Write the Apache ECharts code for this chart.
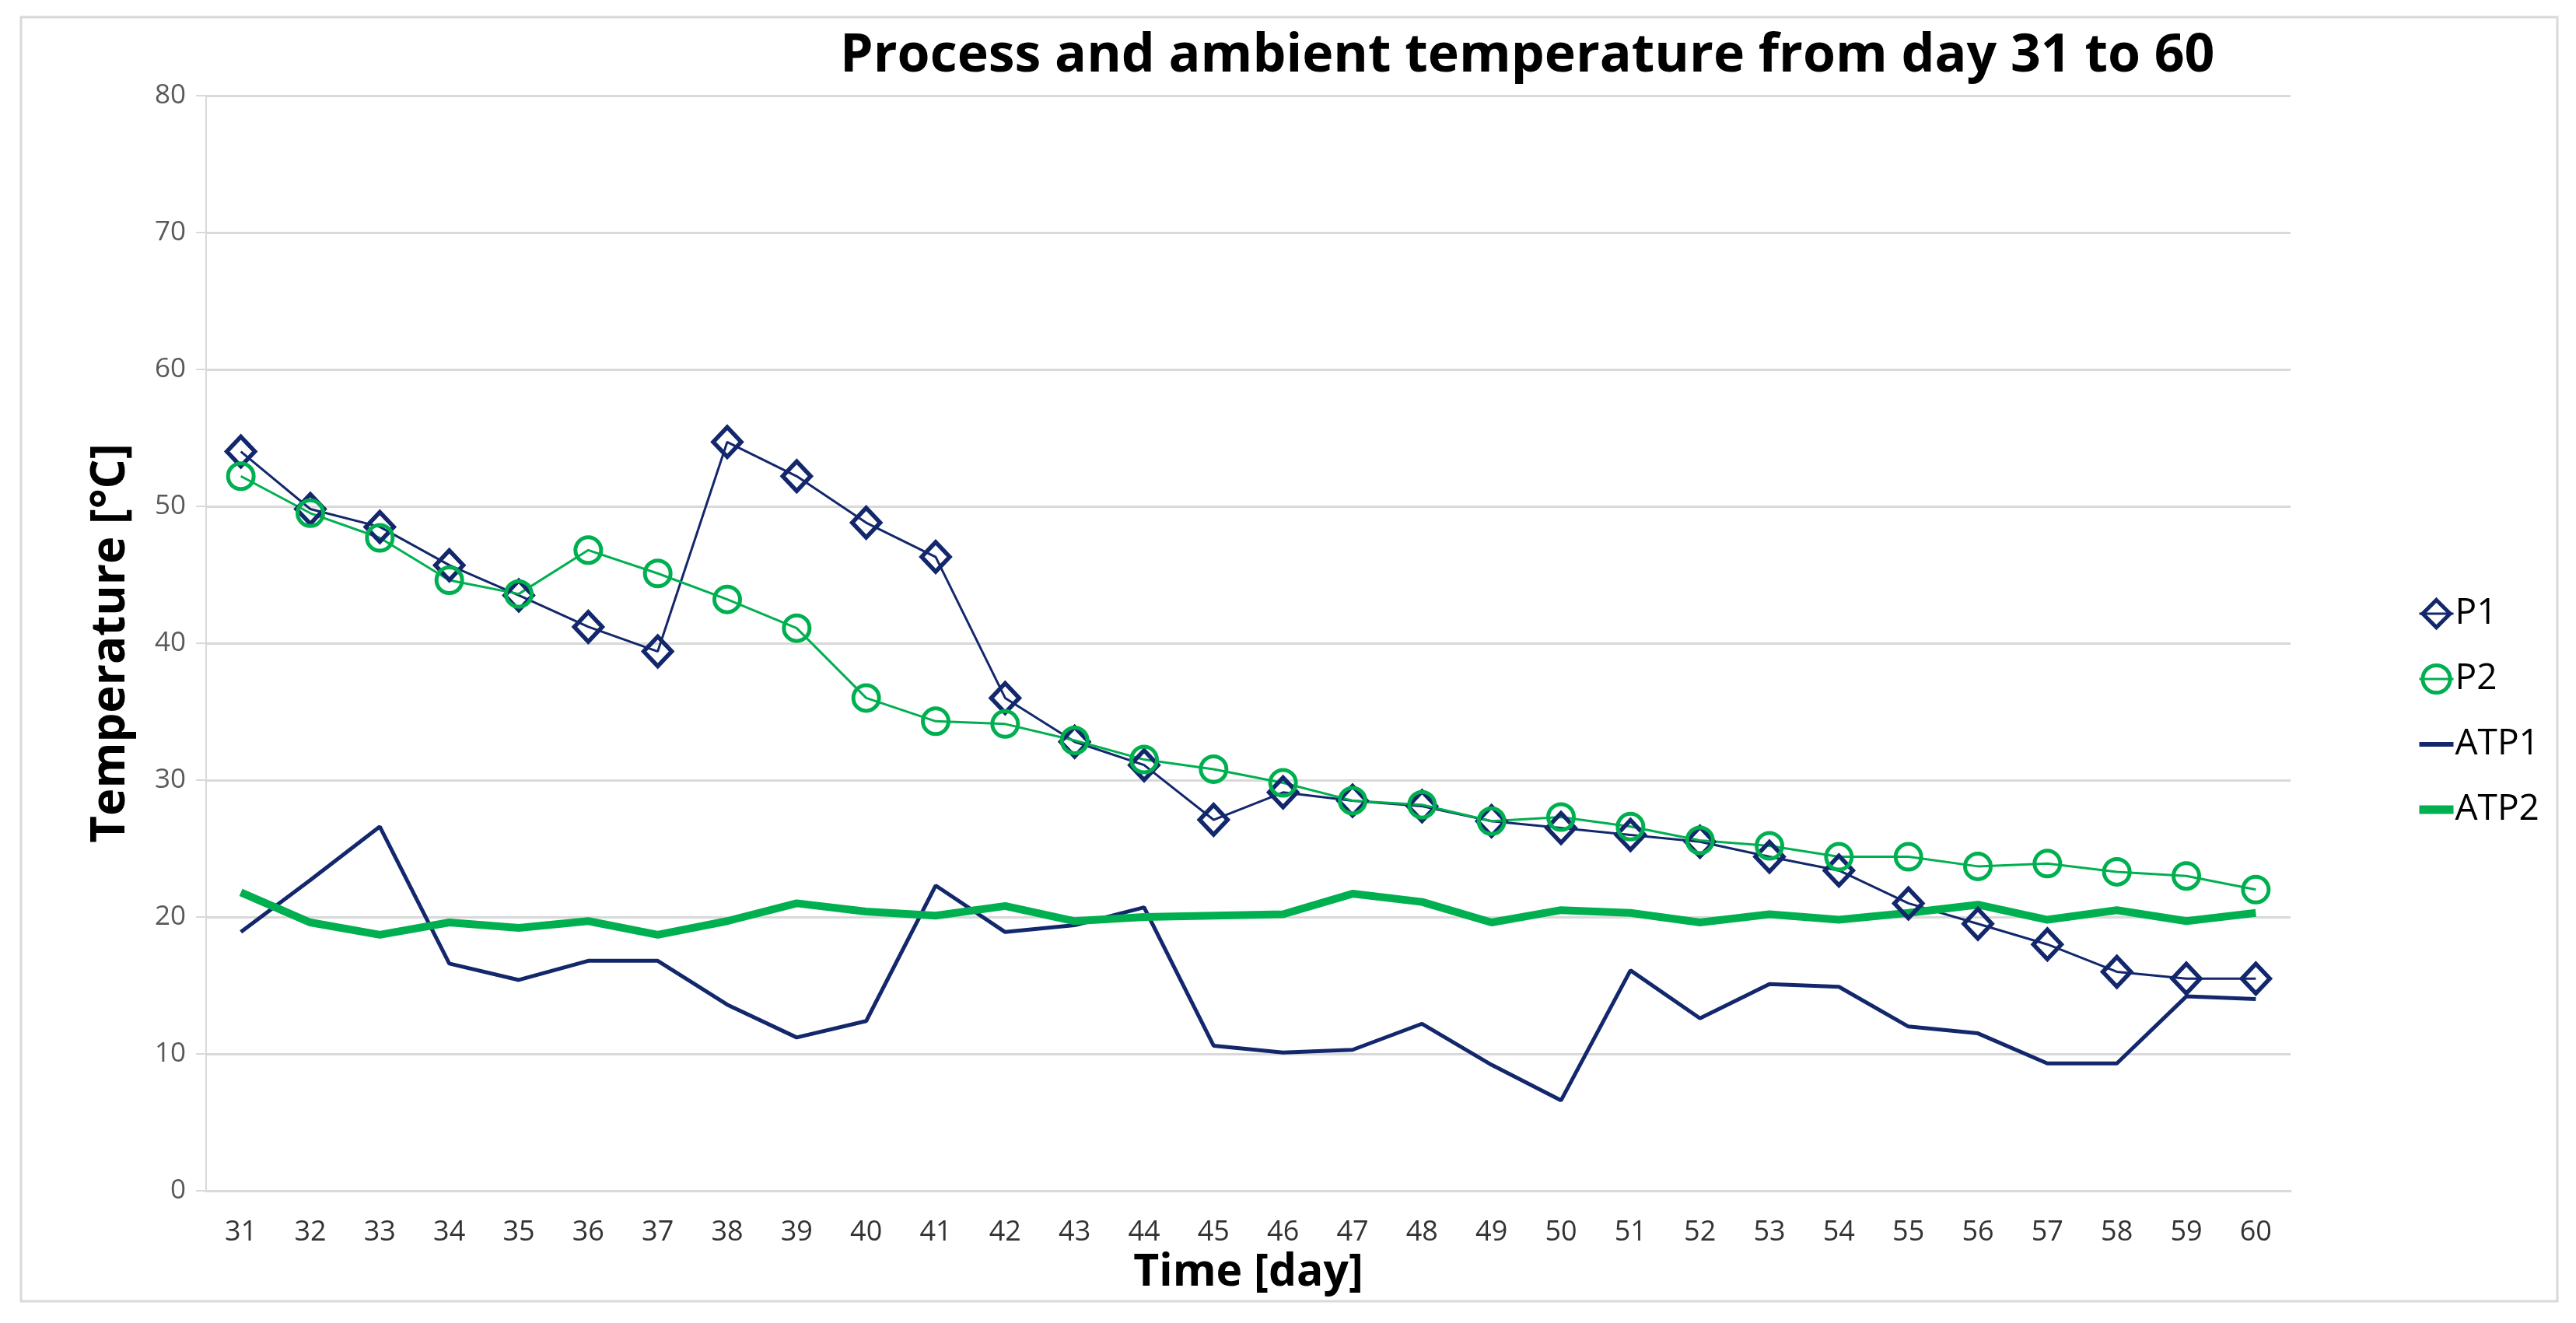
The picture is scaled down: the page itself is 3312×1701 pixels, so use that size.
<!DOCTYPE html>
<html>
<head>
<meta charset="utf-8">
<script src="https://cdn.jsdelivr.net/npm/echarts@6/dist/echarts.min.js"></script>
<style>
html,body{margin:0;padding:0;background:#fff;}
#chart{width:3312px;height:1701px;}
</style>
</head>
<body>
<div id="chart"></div>
<script>
const days = ['31','32','33','34','35','36','37','38','39','40','41','42','43','44','45','46','47','48','49','50','51','52','53','54','55','56','57','58','59','60'];
const P1 = [54.0, 49.8, 48.5, 45.7, 43.5, 41.2, 39.4, 54.7, 52.2, 48.8, 46.3, 36.0, 32.8, 31.1, 27.1, 29.1, 28.5, 28.1, 27.0, 26.5, 26.0, 25.5, 24.4, 23.4, 21.0, 19.5, 18.0, 16.0, 15.5, 15.5];
const P2 = [52.2, 49.5, 47.7, 44.6, 43.6, 46.8, 45.1, 43.2, 41.1, 36.0, 34.3, 34.1, 32.9, 31.5, 30.8, 29.8, 28.5, 28.2, 27.0, 27.3, 26.6, 25.6, 25.2, 24.4, 24.4, 23.7, 23.9, 23.3, 23.0, 22.0];
const ATP1 = [18.9, 22.7, 26.6, 16.6, 15.4, 16.8, 16.8, 13.6, 11.2, 12.4, 22.3, 18.9, 19.4, 20.7, 10.6, 10.1, 10.3, 12.2, 9.2, 6.6, 16.1, 12.6, 15.1, 14.9, 12.0, 11.5, 9.3, 9.3, 14.2, 14.0];
const ATP2 = [21.8, 19.6, 18.7, 19.6, 19.2, 19.7, 18.7, 19.7, 21.0, 20.4, 20.1, 20.8, 19.7, 20.0, 20.1, 20.2, 21.7, 21.1, 19.6, 20.5, 20.3, 19.6, 20.2, 19.8, 20.3, 20.9, 19.8, 20.5, 19.7, 20.3];
const yTicks = [0, 10, 20, 30, 40, 50, 60, 70, 80];

const NAVY = '#13286c';
const GREEN = '#00b050';
const GRID = '#d9d9d9';
const FONT = 'Open Sans';
const HIDDEN_SYMBOL = {color: 'rgba(0,0,0,0)', borderWidth: 0, borderColor: 'rgba(0,0,0,0)'};

const chart = echarts.init(document.getElementById('chart'), null, {renderer: 'canvas', devicePixelRatio: 1});
chart.setOption({
  backgroundColor: '#ffffff',
  animation: false,
  title: {
    text: 'Process and ambient temperature from day 31 to 60',
    left: 1075,
    top: 34,
    textStyle: {fontFamily: FONT, fontWeight: 'bold', fontSize: 68, color: '#000'}
  },
  graphic: [{
    type: 'rect',
    shape: {x: 27, y: 22, width: 3261, height: 1651},
    style: {fill: 'none', stroke: GRID, lineWidth: 3},
    silent: true,
    z: -1
  }],
  legend: {
    orient: 'vertical',
    left: 3100,
    top: 761,
    itemWidth: 44,
    itemHeight: 44,
    itemGap: 38,
    textStyle: {fontFamily: FONT, fontSize: 46, color: '#000', padding: [0, 0, 0, -3]},
    data: [
      {name: 'P1', itemStyle: {color: 'rgba(255,255,255,0)', borderColor: NAVY, borderWidth: 5}, lineStyle: {color: NAVY, width: 3}},
      {name: 'P2', itemStyle: {color: 'rgba(255,255,255,0)', borderColor: GREEN, borderWidth: 5}, lineStyle: {color: GREEN, width: 3}},
      {name: 'ATP1', itemStyle: HIDDEN_SYMBOL, lineStyle: {color: NAVY, width: 6}},
      {name: 'ATP2', itemStyle: HIDDEN_SYMBOL, lineStyle: {color: GREEN, width: 11}}
    ]
  },
  grid: {left: 265, right: 367, top: 123, bottom: 170, containLabel: false},
  xAxis: {
    type: 'category',
    data: days,
    boundaryGap: true,
    name: 'Time [day]',
    nameLocation: 'middle',
    nameGap: 74,
    nameTextStyle: {fontFamily: FONT, fontWeight: 'bold', fontSize: 57, color: '#000'},
    axisLine: {show: true, lineStyle: {color: GRID, width: 3}},
    axisTick: {show: false},
    axisLabel: {fontFamily: FONT, fontSize: 36, color: '#333', margin: 36, interval: 0}
  },
  yAxis: {
    type: 'value',
    min: yTicks[0],
    max: yTicks[yTicks.length - 1],
    interval: 10,
    name: 'Temperature [°C]',
    nameLocation: 'middle',
    nameGap: 92,
    nameTextStyle: {fontFamily: FONT, fontWeight: 'bold', fontSize: 60, color: '#000'},
    axisLine: {show: true, lineStyle: {color: GRID, width: 2}},
    axisTick: {show: true, length: 13, lineStyle: {color: GRID, width: 2}},
    axisLabel: {fontFamily: FONT, fontSize: 35, color: '#595959', margin: 26},
    splitLine: {show: true, lineStyle: {color: GRID, width: 3}}
  },
  series: [
    {
      name: 'P1', type: 'line', data: P1,
      symbol: 'diamond', symbolSize: [36, 38],
      lineStyle: {color: NAVY, width: 3},
      itemStyle: {color: 'rgba(255,255,255,0)', borderColor: NAVY, borderWidth: 5.5}
    },
    {
      name: 'P2', type: 'line', data: P2,
      symbol: 'circle', symbolSize: 33,
      lineStyle: {color: GREEN, width: 3},
      itemStyle: {color: 'rgba(255,255,255,0)', borderColor: GREEN, borderWidth: 5}
    },
    {
      name: 'ATP1', type: 'line', data: ATP1,
      symbol: 'none', showSymbol: false,
      lineStyle: {color: NAVY, width: 5},
      itemStyle: {color: NAVY}
    },
    {
      name: 'ATP2', type: 'line', data: ATP2,
      symbol: 'none', showSymbol: false,
      lineStyle: {color: GREEN, width: 10},
      itemStyle: {color: GREEN}
    }
  ]
});
</script>
</body>
</html>
